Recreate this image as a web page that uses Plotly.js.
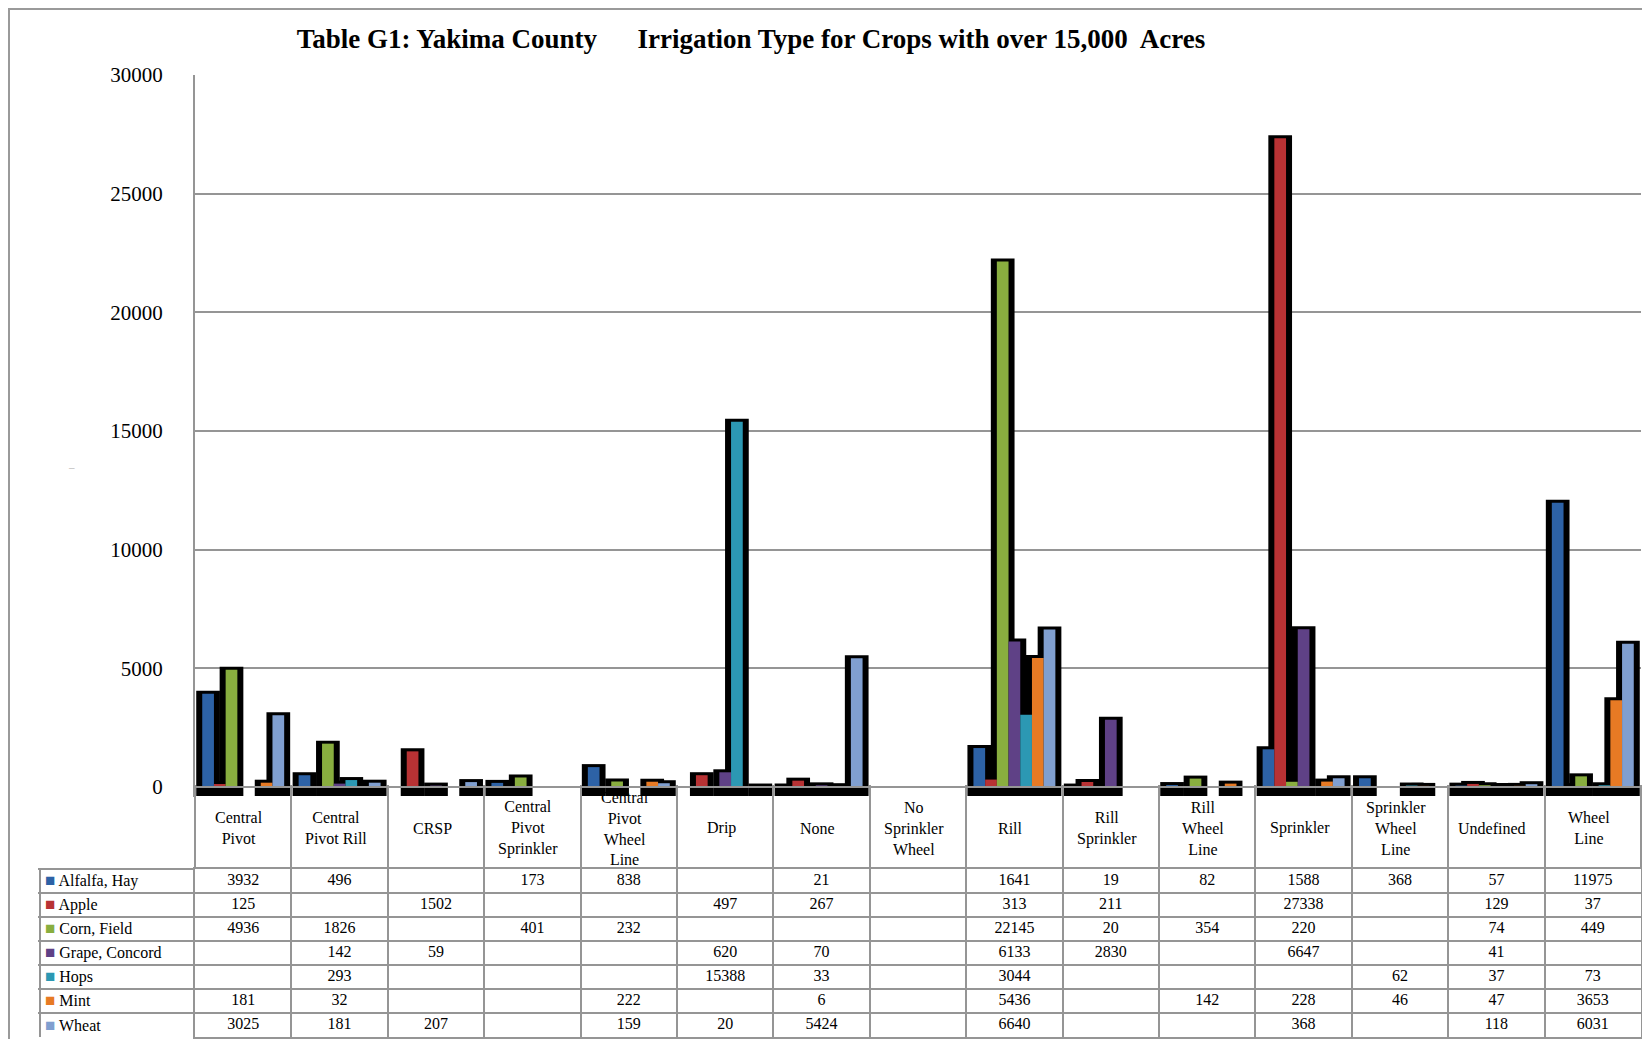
<!DOCTYPE html>
<html>
<head>
<meta charset="utf-8">
<script src="https://cdn.plot.ly/plotly-3.0.1.min.js"></script>
<style>
html, body { margin: 0; padding: 0; background: #ffffff; }
#chart { width: 1642px; height: 1039px; }
</style>
</head>
<body>
<div id="chart"></div>
<script>
// ---------------- DATA ----------------
const categories = ['Central Pivot', 'Central Pivot Rill', 'CRSP', 'Central Pivot Sprinkler',
  'Central Pivot Wheel Line', 'Drip', 'None', 'No Sprinkler Wheel', 'Rill', 'Rill Sprinkler',
  'Rill Wheel Line', 'Sprinkler', 'Sprinkler Wheel Line', 'Undefined', 'Wheel Line'];
const categoryLabels = ['Central<br>Pivot', 'Central<br>Pivot Rill', 'CRSP', 'Central<br>Pivot<br>Sprinkler',
  'Central<br>Pivot<br>Wheel<br>Line', 'Drip', 'None', 'No<br>Sprinkler<br>Wheel', 'Rill', 'Rill<br>Sprinkler',
  'Rill<br>Wheel<br>Line', 'Sprinkler', 'Sprinkler<br>Wheel<br>Line', 'Undefined', 'Wheel<br>Line'];
const seriesNames = ['Alfalfa, Hay', 'Apple', 'Corn, Field', 'Grape, Concord', 'Hops', 'Mint', 'Wheat'];
const alfalfaHay   = [3932, 496, null, 173, 838, null, 21, null, 1641, 19, 82, 1588, 368, 57, 11975];
const apple        = [125, null, 1502, null, null, 497, 267, null, 313, 211, null, 27338, null, 129, 37];
const cornField    = [4936, 1826, null, 401, 232, null, null, null, 22145, 20, 354, 220, null, 74, 449];
const grapeConcord = [null, 142, 59, null, null, 620, 70, null, 6133, 2830, null, 6647, null, 41, null];
const hops         = [null, 293, null, null, null, 15388, 33, null, 3044, null, null, null, 62, 37, 73];
const mint         = [181, 32, null, null, 222, null, 6, null, 5436, null, 142, 228, 46, 47, 3653];
const wheat        = [3025, 181, 207, null, 159, 20, 5424, null, 6640, null, null, 368, null, 118, 6031];
const yTicks = [0, 5000, 10000, 15000, 20000, 25000, 30000];
const chartTitle = 'Table G1: Yakima County\u00a0\u00a0\u00a0\u00a0\u00a0 Irrigation Type for Crops with over 15,000\u00a0 Acres';

// ---------------- STYLE ----------------
const seriesData = [alfalfaHay, apple, cornField, grapeConcord, hops, mint, wheat];
const seriesColors = ['#2D62A6', '#B83234', '#89AE3F', '#5F4186', '#2C98B3', '#E77A24', '#809FD0'];
const W = 1642, H = 1039;
const GRID = '#959595';
const FONT = 'Liberation Serif, Times New Roman, serif';
const px = v => v / W;
const py = v => (H - v) / H;

const plotLeft = 195, plotRight = 1641, plotTop = 75, baseline = 787, plotBottom = 797;
const tableTop = 869, tableBottom = 1037;
const headerCenter = 828;
const dataPerPx = 30000 / (baseline - plotTop);
const below = (plotBottom - baseline) * dataPerPx;
const shadowShift = 3 * dataPerPx;

const traces = [];
// shadow bars (drawn underneath)
seriesData.forEach((vals, i) => {
  traces.push({
    type: 'bar', x: categories, y: vals, name: seriesNames[i] + ' shadow',
    xaxis: 'x', yaxis: 'y', showlegend: false, hoverinfo: 'skip',
    marker: { color: '#000000', line: { color: '#000000', width: 12 } }
  });
});
// coloured bars
seriesData.forEach((vals, i) => {
  traces.push({
    type: 'bar', x: categories, y: vals, name: seriesNames[i],
    xaxis: 'x', yaxis: 'y2', showlegend: false,
    marker: { color: seriesColors[i], line: { width: 0 } }
  });
});
// data table values
seriesData.forEach((vals, i) => {
  traces.push({
    type: 'scatter', mode: 'text', x: categories, y: categories.map(() => seriesNames[i]),
    text: vals.map(v => v === null ? '' : String(v)),
    textposition: 'middle center', cliponaxis: false,
    textfont: { family: FONT, size: 16, color: '#000000' },
    xaxis: 'x3', yaxis: 'y3', showlegend: false, hoverinfo: 'skip'
  });
});

const annotations = [];
categories.forEach((c, j) => {
  annotations.push({
    x: c, xref: 'x', y: py(headerCenter), yref: 'paper', text: categoryLabels[j],
    showarrow: false, xanchor: 'center', yanchor: 'middle', align: 'center', xshift: -4,
    font: { family: FONT, size: 16, color: '#000000' }
  });
});
seriesNames.forEach((n, i) => {
  annotations.push({
    x: px(43), xref: 'paper', y: n, yref: 'y3', xanchor: 'left', yanchor: 'middle',
    showarrow: false,
    text: '<span style="color:' + seriesColors[i] + ';font-size:17px">\u25A0</span> ' + n,
    font: { family: FONT, size: 16, color: '#000000' }
  });
});
annotations.push({
  x: px(66), xref: 'paper', y: py(467), yref: 'paper', text: '\u2013', showarrow: false,
  font: { family: FONT, size: 11, color: '#aaaaaa' }
});

const layout = {
  width: W, height: H,
  margin: { l: 0, r: 0, t: 0, b: 0, pad: 0 },
  paper_bgcolor: '#ffffff', plot_bgcolor: 'rgba(0,0,0,0)',
  showlegend: false,
  barmode: 'group', bargap: 0.15, bargroupgap: 0,
  title: {
    text: '<b>' + chartTitle + '</b>',
    font: { family: FONT, size: 27, color: '#000000' },
    x: px(751), xanchor: 'center', y: py(39), yanchor: 'middle'
  },
  xaxis: {
    domain: [px(plotLeft), px(plotRight)], anchor: 'y', type: 'category',
    categoryorder: 'array', categoryarray: categories, range: [-0.5, categories.length - 0.5],
    showticklabels: false, ticks: '', showgrid: false, zeroline: false,
    showline: false, fixedrange: true
  },
  yaxis: {
    domain: [py(plotBottom), py(plotTop)], anchor: 'x',
    range: [-below + shadowShift, 30000 + shadowShift], visible: false, fixedrange: true
  },
  yaxis2: {
    overlaying: 'y', side: 'left', anchor: 'x',
    range: [-below, 30000], tickmode: 'array', tickvals: yTicks, ticktext: yTicks.map(String),
    showgrid: true, gridcolor: GRID, gridwidth: 2, zeroline: false,
    showline: true, linecolor: GRID, linewidth: 2, ticks: '',
    ticklabelstandoff: 26,
    tickfont: { family: FONT, size: 21, color: '#000000' }, fixedrange: true
  },
  xaxis3: {
    domain: [px(plotLeft), px(plotRight)], anchor: 'y3', side: 'top', type: 'category',
    categoryorder: 'array', categoryarray: categories, range: [-0.5, categories.length - 0.5],
    tickson: 'boundaries', ticks: 'outside', ticklen: tableTop - baseline, tickwidth: 2, tickcolor: GRID,
    showticklabels: false, showgrid: true, gridcolor: GRID, gridwidth: 2, zeroline: false,
    showline: true, mirror: true, linecolor: GRID, linewidth: 2, fixedrange: true
  },
  yaxis3: {
    domain: [py(tableBottom), py(tableTop)], anchor: 'x3', type: 'category',
    categoryorder: 'array', categoryarray: seriesNames, range: [seriesNames.length - 0.5, -0.5],
    tickson: 'boundaries', ticks: 'outside', ticklen: plotLeft - 40, tickwidth: 2, tickcolor: GRID,
    showticklabels: false, showgrid: true, gridcolor: GRID, gridwidth: 2, zeroline: false,
    showline: true, mirror: true, linecolor: GRID, linewidth: 2, fixedrange: true
  },
  shapes: [
    { type: 'rect', xref: 'paper', yref: 'paper', x0: px(9), x1: 1.2, y0: -0.2, y1: py(9),
      line: { color: '#9a9a9a', width: 2 }, fillcolor: 'rgba(0,0,0,0)', layer: 'below' },
    { type: 'line', xref: 'paper', yref: 'paper', x0: px(40), x1: px(40), y0: py(tableBottom), y1: py(tableTop),
      line: { color: GRID, width: 2 } },
    { type: 'line', xref: 'paper', yref: 'paper', x0: px(plotLeft), x1: px(plotRight), y0: py(baseline), y1: py(baseline),
      line: { color: GRID, width: 2 }, layer: 'above' }
  ],
  annotations: annotations
};

Plotly.newPlot('chart', traces, layout, { displayModeBar: false, staticPlot: true });
</script>
</body>
</html>
